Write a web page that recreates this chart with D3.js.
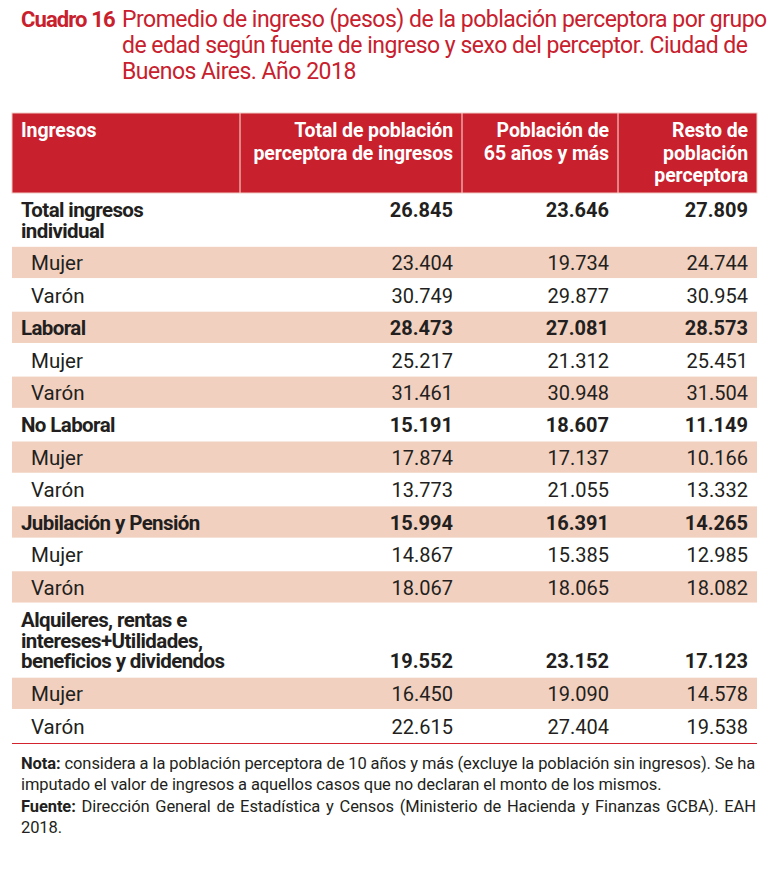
<!DOCTYPE html>
<html><head><meta charset="utf-8">
<script src="https://cdn.jsdelivr.net/npm/d3@7"></script>
<style>
html,body{margin:0;padding:0;background:#fff;}
svg{display:block;}
text{font-family:Roboto,"Noto Sans",sans-serif;}
</style></head>
<body>
<svg id="c" width="773" height="896"></svg>
<script>
// ---------- DATA ----------
const titleLabel = "Cuadro 16";
const titleLines = [
  "Promedio de ingreso (pesos) de la población perceptora por grupo",
  "de edad según fuente de ingreso y sexo del perceptor. Ciudad de",
  "Buenos Aires. Año 2018"
];
const headers = [
  ["Ingresos"],
  ["Total de población", "perceptora de ingresos"],
  ["Población de", "65 años y más"],
  ["Resto de", "población", "perceptora"]
];
const categories = [
  ["Total ingresos", "individual"],
  ["Mujer"], ["Varón"],
  ["Laboral"],
  ["Mujer"], ["Varón"],
  ["No Laboral"],
  ["Mujer"], ["Varón"],
  ["Jubilación y Pensión"],
  ["Mujer"], ["Varón"],
  ["Alquileres, rentas e", "intereses+Utilidades,", "beneficios y dividendos"],
  ["Mujer"], ["Varón"]
];
const isGroup = [true,false,false,true,false,false,true,false,false,true,false,false,true,false,false];
const totalPoblacion = [26845,23404,30749,28473,25217,31461,15191,17874,13773,15994,14867,18067,19552,16450,22615];
const poblacion65 = [23646,19734,29877,27081,21312,30948,18607,17137,21055,16391,15385,18065,23152,19090,27404];
const restoPoblacion = [27809,24744,30954,28573,25451,31504,11149,10166,13332,14265,12985,18082,17123,14578,19538];
const notaLabel = "Nota:";
const notaLines = [" considera a la población perceptora de 10 años y más (excluye la población sin ingresos). Se ha",
                   "imputado el valor de ingresos a aquellos casos que no declaran el monto de los mismos."];
const fuenteLabel = "Fuente:";
const fuenteLines = [" Dirección General de Estadística y Censos (Ministerio de Hacienda y Finanzas GCBA). EAH", "2018."];

// ---------- LAYOUT ----------
const RED = "#c8202d", SHADE = "#f1d0bf", INK = "#231f20";
const svg = d3.select("#c");
const fmt = d3.formatLocale({decimal: ",", thousands: ".", grouping: [3], currency: ["$", ""]}).format(",d");

// title
const title = svg.append("g");
title.append("text").attr("x", 21).attr("y", 27).attr("fill", RED)
  .attr("font-size", 22).attr("font-weight", 700).attr("letter-spacing", -0.9).text(titleLabel);
const tt = title.append("text").attr("x", 122).attr("y", 27).attr("fill", RED)
  .attr("font-size", 23).attr("letter-spacing", -0.5);
tt.selectAll("tspan").data(titleLines).join("tspan")
  .attr("x", 122).attr("dy", (d,i) => i === 0 ? 0 : 26).text(d => d);

// table geometry
const left = 12, right = 757;
const colEdges = [12, 240, 462, 618, 757];
const colRight = [null, 453, 609, 748];
const headTop = 113, headBottom = 193;

// rows via scale of "units"
const rowUnits = categories.map(c => 1 + (c.length - 1) * 0.64);
const cum = d3.cumsum([0, ...rowUnits]);
const y = d3.scaleLinear().domain([0, cum[cum.length-1]]).range([headBottom, 742]);

// header
const head = svg.append("g");
head.append("rect").attr("x", left).attr("y", headTop).attr("width", right-left).attr("height", headBottom-headTop)
  .attr("fill", RED).attr("stroke", "#f2c9c4").attr("stroke-width", 1);
head.selectAll("line.sep").data(colEdges.slice(1, -1)).join("line").attr("class","sep")
  .attr("x1", d => d).attr("x2", d => d).attr("y1", headTop).attr("y2", headBottom)
  .attr("stroke", "#f2c9c4").attr("stroke-width", 1.2);
headers.forEach((lines, ci) => {
  const x = ci === 0 ? 21 : colRight[ci];
  const t = head.append("text").attr("x", x).attr("y", 137)
    .attr("text-anchor", ci === 0 ? "start" : "end").attr("fill", "#fff").attr("font-size", 19.5)
    .attr("font-weight", 700).attr("letter-spacing", -0.1);
  t.selectAll("tspan").data(lines).join("tspan").attr("x", x)
    .attr("dy", (d,i) => i === 0 ? 0 : 22.7).text(d => d);
});

// body
const rows = categories.map((c, i) => ({
  label: c, group: isGroup[i], vals: [totalPoblacion[i], poblacion65[i], restoPoblacion[i]],
  y0: y(cum[i]), y1: y(cum[i+1]), i
}));
const body = svg.append("g");
const rg = body.selectAll("g.row").data(rows).join("g").attr("class", "row");
rg.filter(d => d.i % 2 === 1).append("rect")
  .attr("x", left).attr("width", right-left)
  .attr("y", d => d.y0 + 0.6).attr("height", d => d.y1 - d.y0 - 1.2).attr("fill", SHADE);
rg.each(function(d) {
  const g = d3.select(this);
  const lx = d.group ? 21 : 31;
  const t = g.append("text").attr("class","lab")
    .attr("x", lx).attr("y", d.y0 + 24)
    .attr("fill", INK).attr("font-size", 20.5)
    .attr("font-weight", d.group ? 700 : 400).attr("letter-spacing", d.group ? -0.6 : 0);
  t.selectAll("tspan").data(d.label).join("tspan").attr("x", lx)
    .attr("dy", (s,k) => k === 0 ? 0 : 20.5).text(s => s);
  const lastLine = d.y0 + 24 + (d.label.length - 1) * 20.5;
  g.selectAll("text.val").data(d.vals).join("text").attr("class","val")
    .attr("x", (v,k) => colRight[k+1]).attr("text-anchor", "end")
    .attr("y", d.label.length === 3 ? lastLine : d.y0 + 24)
    .attr("fill", INK).attr("font-size", 20).attr("font-weight", d.group ? 700 : 400)
    .text(v => fmt(v));
});

// bottom rule
svg.append("line").attr("x1", left).attr("x2", right).attr("y1", 743.5).attr("y2", 743.5)
  .attr("stroke", "#d2232f").attr("stroke-width", 1.2);

// notes
function note(label, lines, y0, ws) {
  lines.forEach((l, i) => {
    const t = svg.append("text").attr("x", 21).attr("y", y0 + i*20.5).attr("fill", INK)
      .attr("font-size", 16.5).attr("letter-spacing", -0.1)
      .attr("word-spacing", i === 0 ? ws : 0);
    if (i === 0) t.append("tspan").attr("font-weight", 700).text(label);
    t.append("tspan").text(l);
  });
}
note(notaLabel, notaLines, 769, 0);
note(fuenteLabel, fuenteLines, 812, 1.8);
</script>
</body></html>
